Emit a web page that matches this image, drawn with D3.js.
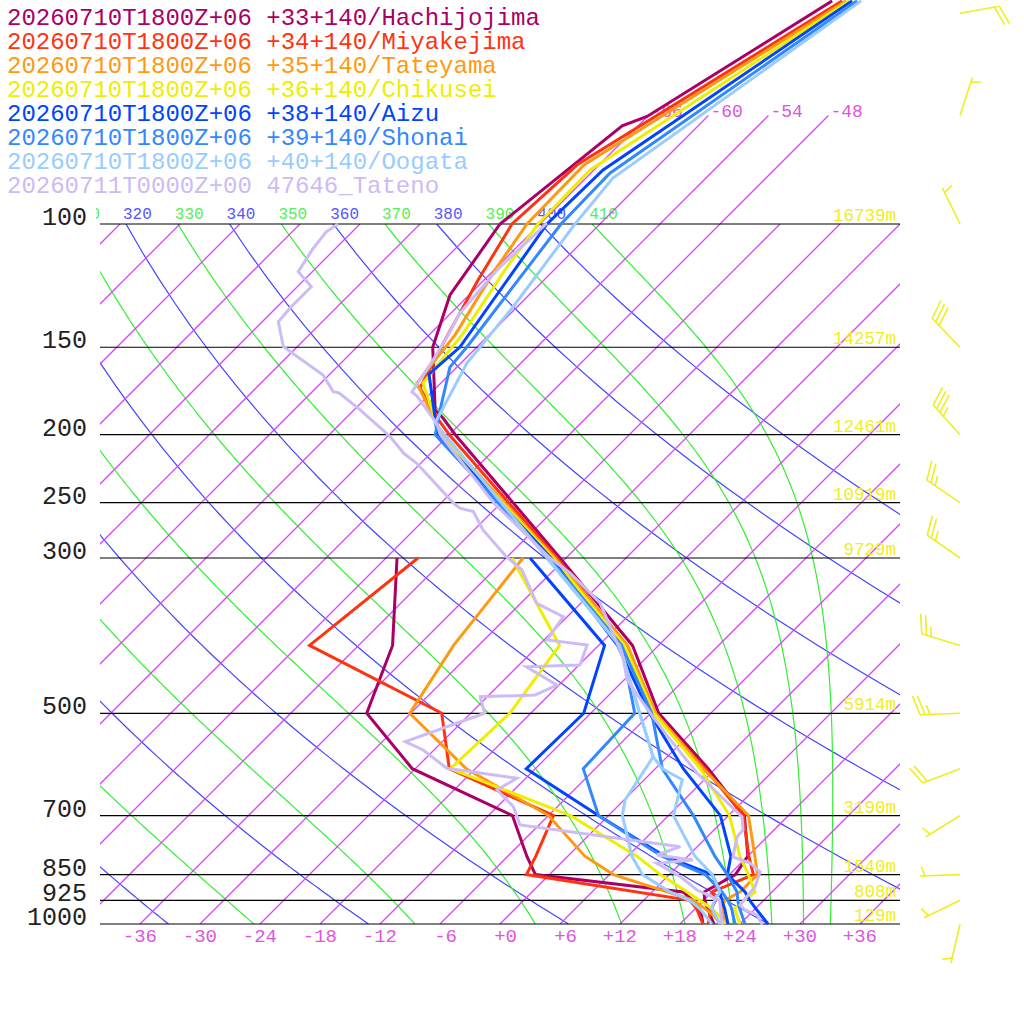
<!DOCTYPE html>
<html>
<head>
<meta charset="utf-8">
<script src="https://cdn.jsdelivr.net/npm/d3@7"></script>
<style>
  body { margin: 0; background: #fff; }
  svg { display: block; }
  text { font-family: "Liberation Mono", monospace; font-weight: normal; }
</style>
</head>
<body>
<svg id="chart" width="1024" height="1024"></svg>
<script>
// grid values
const PRESSURE_LEVELS = [1000, 925, 850, 700, 500, 300, 250, 200, 150, 100];
const HEIGHT_LABELS = ["129m", "808m", "1540m", "3190m", "5914m", "9729m", "10919m", "12461m", "14257m", "16739m"];
const TEMP_TICKS = [-36, -30, -24, -18, -12, -6, 0, 6, 12, 18, 24, 30, 36];
const DRY_ADIABATS = [240, 260, 280, 300, 320, 340, 360, 380, 400];
const MOIST_ADIABATS = [250, 270, 290, 310, 330, 350, 370, 390, 410];
const UPPER_ISOTHERMS = [-66, -60, -54, -48];

const STATION_NAMES = [
  "20260710T1800Z+06 +33+140/Hachijojima",
  "20260710T1800Z+06 +34+140/Miyakejima",
  "20260710T1800Z+06 +35+140/Tateyama",
  "20260710T1800Z+06 +36+140/Chikusei",
  "20260710T1800Z+06 +38+140/Aizu",
  "20260710T1800Z+06 +39+140/Shonai",
  "20260710T1800Z+06 +40+140/Oogata",
  "20260711T0000Z+00 47646_Tateno"
];
const STATION_COLORS = ["#aa0066", "#ff3311", "#ff9911", "#eeee00", "#0044ff", "#3388ff", "#99ccff", "#ccbbf5"];

// [pressure hPa, temperature C]
const HACHIJOJIMA_T = [[1000, 21.4], [975, 20.3], [950, 19.2], [925, 18.1], [900, 17.2], [850, 18.6], [800, 18.0], [700, 13.6], [600, 5.3], [500, -5.2], [400, -14.6], [300, -30.6], [200, -53.4], [189.3, -56.3], [184.3, -57.9], [150, -64.4], [126.3, -67.9], [100, -70.0], [72.4, -67.6], [70.2, -66.05], [48, -59.1]];
const HACHIJOJIMA_TD = [[1000, 20.3], [975, 19.4], [950, 18.4], [925, 16.9], [900, 15.1], [850, -1.4], [800, -4.1], [700, -9.6], [600, -24.3], [500, -34.4], [400, -38.6], [300, -46.9]];

const MIYAKEJIMA_T = [[1000, 20.8], [950, 19.6], [925, 19.2], [900, 18.0], [850, 20.4], [800, 18.1], [700, 13.5], [600, 5.0], [500, -5.6], [400, -15.2], [300, -30.9], [200, -54.0], [191.8, -56.2], [171.5, -61.6], [146.5, -63.9], [120.2, -66.6], [100, -68.8], [82.3, -68.2], [48, -58.1]];
const MIYAKEJIMA_TD = [[1000, 20.3], [975, 19.2], [950, 18.1], [925, 16.6], [850, -2.3], [800, -3.2], [700, -5.5], [600, -20.6], [500, -26.9], [400, -46.9], [300, -44.8]];

const TATEYAMA_T = [[1000, 22.5], [950, 20.6], [925, 20.1], [900, 20.8], [850, 20.8], [800, 18.7], [700, 14.0], [600, 4.8], [500, -5.5], [400, -15.1], [300, -31.1], [200, -54.7], [178.4, -59.9], [168.7, -62.4], [144.1, -63.4], [116.4, -65.9], [100, -67.3], [82.3, -67.5], [48, -57.7]];
const TATEYAMA_TD = [[1000, 22.0], [975, 20.7], [950, 18.9], [925, 17.0], [850, 6.4], [800, 1.7], [700, -6.0], [600, -18.9], [500, -30.1], [400, -32.5], [300, -34.3]];

const CHIKUSEI_T = [[1000, 24.0], [950, 21.9], [925, 22.1], [900, 22.3], [850, 19.9], [800, 17.2], [700, 12.1], [600, 4.5], [500, -5.7], [400, -15.4], [300, -31.3], [200, -54.9], [184.3, -58.2], [168.7, -61.8], [144.1, -62.7], [116.4, -64.9], [100, -66.2], [83.7, -66.4], [48, -57.4]];
const CHIKUSEI_TD = [[1000, 22.5], [975, 21.2], [950, 19.6], [925, 17.6], [850, 11.1], [800, 6.9], [700, -3.8], [600, -20.5], [500, -20.1], [400, -21.9], [300, -35.4]];

const AIZU_T = [[1000, 26.8], [950, 24.0], [925, 22.6], [900, 21.3], [850, 17.8], [800, 16.3], [700, 11.2], [600, 2.8], [500, -6.1], [400, -16.1], [300, -31.5], [200, -55.2], [188.7, -57.2], [163.8, -62.1], [150, -61.7], [100, -65.3], [83.7, -65.1], [48, -57.1]];
const AIZU_TD = [[1000, 22.8], [950, 20.9], [925, 19.8], [900, 18.8], [850, 16.3], [800, 9.7], [700, -1.0], [600, -12.9], [500, -12.7], [400, -17.4], [300, -33.6]];

const SHONAI_T = [[1000, 24.5], [950, 22.4], [925, 21.4], [900, 20.5], [850, 17.8], [800, 14.7], [700, 8.5], [600, 0.7], [500, -5.9], [400, -15.7], [300, -31.7], [200, -55.4], [184.3, -57.4], [160.1, -60.7], [150, -61.0], [100, -63.9], [84.6, -64.1], [48, -56.6]];
const SHONAI_TD = [[1000, 23.5], [950, 21.6], [925, 20.4], [900, 19.0], [850, 15.6], [800, 9.4], [700, -1.0], [600, -7.2], [500, -7.6], [400, -15.7], [300, -31.7]];

const OOGATA_T = [[1000, 22.0], [950, 19.6], [925, 19.1], [900, 18.8], [850, 16.3], [800, 12.7], [700, 6.5], [622, 3.8], [600, 0.7], [577, -1.4], [500, -7.1], [400, -15.9], [300, -31.9], [192.4, -56.6], [158, -59.4], [131.4, -60.4], [100, -62.5], [86, -63.3], [48, -56.2]];
const OOGATA_TD = [[1000, 21.2], [950, 18.4], [925, 16.6], [900, 13.8], [850, 9.3], [800, 6.4], [700, 1.4], [665, 0.1], [577, -1.4], [500, -7.1], [400, -15.9], [300, -31.9]];

const TATENO_T = [[1003, 26.3], [970.8, 24.8], [955, 23.1], [939.4, 22.1], [885.6, 21.8], [842.6, 20.8], [818.2, 18.9], [802.3, 16.6], [751, 15.0], [733.9, 14.9], [703.3, 13.5], [608.5, 4.6], [540.5, -1.9], [499.3, -6.1], [448.1, -11.7], [415.6, -14.4], [347.8, -22.1], [315.2, -28.1], [300, -31.6], [250, -42.8], [200, -54.9], [193, -56.3], [176.1, -61.1], [173.8, -62.0], [156.4, -63.1], [145, -64.0], [134.1, -65.1], [116.4, -65.7], [99.7, -65.4]];
const TATENO_TD = [[1003, 22.3], [944.7, 20.3], [925, 19.6], [894.3, 16.3], [855.8, 13.3], [819, 9.6], [810.3, 12.9], [797, 8.8], [775.4, 10.3], [722, -7.9], [679.7, -10.4], [643.4, -13.7], [619.1, -12.9], [599, -20.9], [564.1, -25.1], [549, -27.7], [500, -22.6], [473.6, -24.7], [470.9, -19.4], [455.7, -18.2], [429, -23.1], [426.6, -17.9], [399.3, -19.2], [392.8, -23.7], [363.9, -24.4], [348.2, -28.4], [312.1, -33.2], [298.7, -36.1], [273.6, -41.1], [257.6, -43.9], [254.7, -45.6], [250.6, -46.7], [219.7, -54.4], [212.6, -56.7], [201.3, -59.7], [184.3, -65.4], [174.3, -69.2], [173.6, -69.9], [164.3, -72.6], [149.7, -79.4], [137.9, -82.4], [131.3, -82.6], [122.9, -82.6], [117, -85.4], [108.9, -86.2], [102.6, -86.6], [100, -86.2]];

const TEMPERATURES = [HACHIJOJIMA_T, MIYAKEJIMA_T, TATEYAMA_T, CHIKUSEI_T, AIZU_T, SHONAI_T, OOGATA_T, TATENO_T];
const DEWPOINTS = [HACHIJOJIMA_TD, MIYAKEJIMA_TD, TATEYAMA_TD, CHIKUSEI_TD, AIZU_TD, SHONAI_TD, OOGATA_TD, TATENO_TD];

const WIND_LEVELS = [50, 70, 100, 150, 200, 250, 300, 400, 500, 600, 700, 850, 925, 1000];
const WIND_DIRECTION = [80, 18, 334, 316, 318, 304, 305, 287, 268, 249, 238, 268, 244, 193];
const WIND_SPEED = [20, 5, 5, 30, 35, 25, 25, 25, 25, 20, 5, 5, 5, 5];

const Y_SCALE = d3.scaleLog().domain([1000, 100]).range([924, 224]);
const X_SCALE = d3.scaleLinear().domain([-40, 40]).range([100, 900]);
const skewX = (p, t) => X_SCALE(t) + (Y_SCALE(1000) - Y_SCALE(p));
const skewLine = d3.line().x(d => skewX(d[0], d[1])).y(d => Y_SCALE(d[0]));

const KAPPA = 0.2857;

function moistLapse(p, tk) {
  const es = 6.112 * Math.exp(17.67 * (tk - 273.15) / (tk - 29.65));
  const rs = 0.622 * es / (p - es);
  const L = 2.501e6, Rd = 287.04, cp = 1005.7;
  return (Rd * tk + L * rs) / (cp + L * L * rs * 0.622 / (Rd * tk * tk));
}

function moistAdiabat(theta) {
  let p = 100;
  let tk = theta * Math.pow(0.1, KAPPA);
  const pts = [[p, tk - 273.15]];
  const n = 160;
  const step = Math.log(10) / n;
  for (let i = 0; i < n; i++) {
    const lp = Math.log(p);
    const k1 = moistLapse(p, tk);
    const k2 = moistLapse(Math.exp(lp + step / 2), tk + k1 * step / 2);
    tk += k2 * step;
    p = Math.exp(lp + step);
    pts.push([p, tk - 273.15]);
  }
  return pts;
}

function dryAdiabat(theta) {
  return d3.range(100, 1001, 10).map(p => [p, theta * Math.pow(p / 1000, KAPPA) - 273.15]);
}

function createClips(svg) {
  const defs = svg.append("defs");
  defs.append("clipPath").attr("id", "plot-clip")
    .append("rect").attr("x", 100).attr("y", 224).attr("width", 800).attr("height", 700);
  defs.append("clipPath").attr("id", "label-clip")
    .append("rect").attr("x", 96).attr("y", 0).attr("width", 804).attr("height", 1024);
}

function createIsotherms(chart, params) {
  const g = chart.append("g").attr("clip-path", "url(#plot-clip)");
  g.selectAll("line.isotherm")
    .data(d3.range(-108, 42, 6))
    .enter()
    .append("line")
    .classed("isotherm", true)
    .attr("x1", t => skewX(1000, t))
    .attr("y1", Y_SCALE(1000))
    .attr("x2", t => skewX(100, t))
    .attr("y2", Y_SCALE(100))
    .attr("stroke", params.ISOTHERM_COLOR)
    .attr("stroke-width", 1.3);

  chart.selectAll("line.upper-isotherm")
    .data(UPPER_ISOTHERMS)
    .enter()
    .append("line")
    .classed("upper-isotherm", true)
    .attr("x1", t => skewX(100, t))
    .attr("y1", Y_SCALE(100))
    .attr("x2", t => skewX(70, t))
    .attr("y2", Y_SCALE(70))
    .attr("stroke", params.ISOTHERM_COLOR)
    .attr("stroke-width", 1.3);

  chart.selectAll("text.isotherm-label")
    .data(UPPER_ISOTHERMS)
    .enter()
    .append("text")
    .text(t => t)
    .attr("x", t => skewX(70, t) + 2)
    .attr("y", Y_SCALE(70) + 1)
    .attr("font-size", 18)
    .attr("fill", params.LABEL_MAGENTA);
}

function createAdiabats(chart, params) {
  const g = chart.append("g").attr("clip-path", "url(#plot-clip)");
  const dry = DRY_ADIABATS.map(th => ({ value: th, pts: dryAdiabat(th), color: params.DRY_COLOR, label: "#5555ff" }));
  const moist = MOIST_ADIABATS.map(th => ({ value: th, pts: moistAdiabat(th), color: params.MOIST_COLOR, label: "#55ee55" }));
  const all = dry.concat(moist);

  g.selectAll("path.adiabat")
    .data(all)
    .enter()
    .append("path")
    .attr("d", d => skewLine(d.pts))
    .attr("stroke", d => d.color)
    .attr("stroke-width", 1.2)
    .attr("fill", "none");

  const labelX = d => skewX(d.pts[0][0], d.pts[0][1]) - 3;
  const labels = chart.append("g").attr("clip-path", "url(#label-clip)");
  labels.selectAll("text.adiabat-label")
    .data(all.filter(d => labelX(d) > 60 && labelX(d) < 890))
    .enter()
    .append("text")
    .text(d => d.value)
    .attr("x", labelX)
    .attr("y", 219)
    .attr("font-size", 16)
    .attr("fill", d => d.label);
}

function createIsobars(chart, params) {
  chart.selectAll("line.isobar")
    .data(PRESSURE_LEVELS)
    .enter()
    .append("line")
    .attr("x1", 100)
    .attr("x2", 900)
    .attr("y1", p => Y_SCALE(p))
    .attr("y2", p => Y_SCALE(p))
    .attr("stroke", "#000")
    .attr("stroke-width", 1.2);

  chart.selectAll("text.pressure-label")
    .data(PRESSURE_LEVELS)
    .enter()
    .append("text")
    .text(p => p)
    .attr("x", 87)
    .attr("y", p => Y_SCALE(p) + 1)
    .attr("text-anchor", "end")
    .attr("font-size", 25)
    .attr("fill", "#222");

  chart.selectAll("text.height-label")
    .data(PRESSURE_LEVELS)
    .enter()
    .append("text")
    .text((p, i) => HEIGHT_LABELS[i])
    .attr("x", 896)
    .attr("y", p => Y_SCALE(p) - 3)
    .attr("text-anchor", "end")
    .attr("font-size", 17.5)
    .attr("fill", params.BARB_COLOR);
}

function createAxisLabels(chart, params) {
  chart.selectAll("text.temp-label")
    .data(TEMP_TICKS)
    .enter()
    .append("text")
    .text(t => (t >= 0 ? "+" : "-") + Math.abs(t))
    .attr("x", t => X_SCALE(t) + 17)
    .attr("y", 942)
    .attr("text-anchor", "end")
    .attr("font-size", 19)
    .attr("fill", params.LABEL_MAGENTA);
}

function createProfiles(chart, params) {
  STATION_NAMES.forEach((name, i) => {
    [DEWPOINTS[i], TEMPERATURES[i]].forEach(series => {
      chart.append("path")
        .attr("d", skewLine(series))
        .attr("stroke", STATION_COLORS[i])
        .attr("stroke-width", 3)
        .attr("fill", "none");
    });
  });
}

function createLegend(chart, params) {
  chart.selectAll("text.legend")
    .data(STATION_NAMES)
    .enter()
    .append("text")
    .text(d => d)
    .attr("x", 7)
    .attr("y", (d, i) => 25 + i * 24)
    .attr("font-size", 24)
    .attr("fill", (d, i) => STATION_COLORS[i])
    .attr("xml:space", "preserve");
}

function createWindBarbs(chart, params) {
  const g = chart.append("g")
    .attr("stroke", params.BARB_COLOR)
    .attr("stroke-width", 1.6)
    .attr("fill", "none");
  WIND_LEVELS.forEach((p, i) => {
    const x0 = params.BARB_X;
    const y0 = Y_SCALE(p);
    const rad = WIND_DIRECTION[i] * Math.PI / 180;
    const dx = Math.sin(rad), dy = -Math.cos(rad);
    const px = -dy, py = dx;
    const fx = 0.342 * dx + 0.94 * px, fy = 0.342 * dy + 0.94 * py;
    const tipX = x0 + 40 * dx, tipY = y0 + 40 * dy;
    g.append("line").attr("x1", x0).attr("y1", y0).attr("x2", tipX).attr("y2", tipY);
    const full = Math.floor(WIND_SPEED[i] / 10);
    const half = WIND_SPEED[i] % 10 >= 5;
    let pos = full === 0 ? 5 : 0;
    for (let k = 0; k < full; k++) {
      const bx = tipX - pos * dx, by = tipY - pos * dy;
      g.append("line").attr("x1", bx).attr("y1", by).attr("x2", bx + 20 * fx).attr("y2", by + 20 * fy);
      pos += 5;
    }
    if (half) {
      const bx = tipX - pos * dx, by = tipY - pos * dy;
      g.append("line").attr("x1", bx).attr("y1", by).attr("x2", bx + 10 * fx).attr("y2", by + 10 * fy);
    }
  });
}

const PARAMS = {
  ISOTHERM_COLOR: "#dd44ff",
  LABEL_MAGENTA: "#dd55dd",
  DRY_COLOR: "#4444ff",
  MOIST_COLOR: "#33ee33",
  BARB_COLOR: "#eeee22",
  BARB_X: 960
};

const svg = d3.select("#chart");
svg.append("rect").attr("width", 1024).attr("height", 1024).attr("fill", "#fff");
createClips(svg);
const chart = svg.append("g");
createAdiabats(chart, PARAMS);
createIsotherms(chart, PARAMS);
createIsobars(chart, PARAMS);
createAxisLabels(chart, PARAMS);
createProfiles(chart, PARAMS);
createLegend(chart, PARAMS);
createWindBarbs(chart, PARAMS);
</script>
</body>
</html>
